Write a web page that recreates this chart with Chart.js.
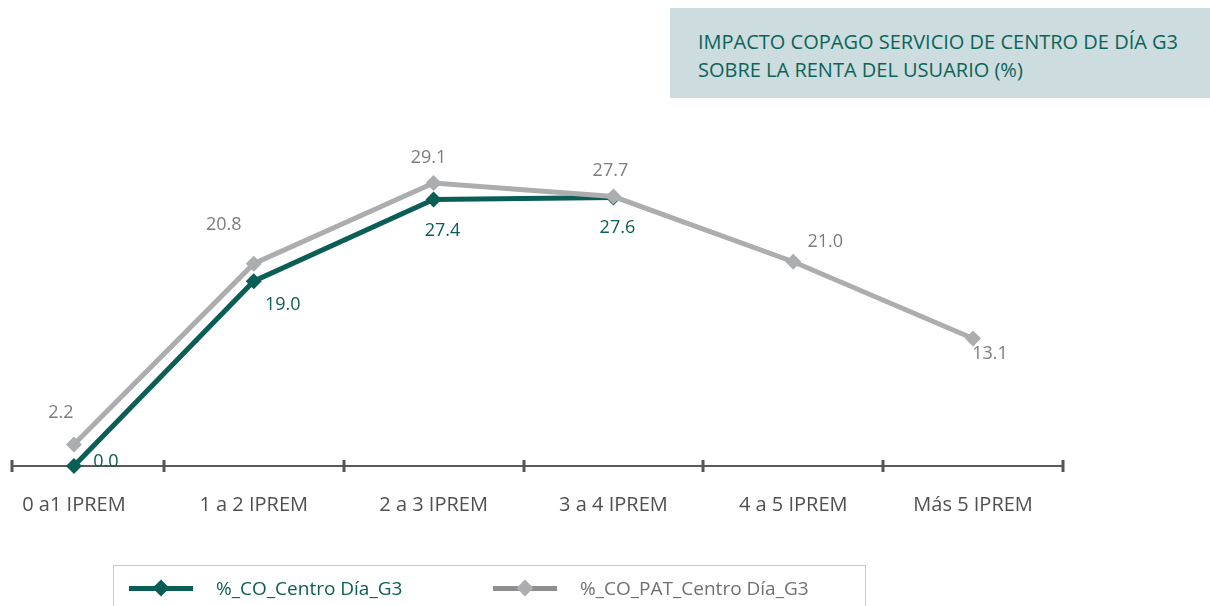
<!DOCTYPE html>
<html><head><meta charset="utf-8">
<script src="https://cdn.jsdelivr.net/npm/chart.js@4/dist/chart.umd.min.js"></script>
<style>
html,body{margin:0;padding:0;background:#fff;}
#wrap{position:relative;width:1210px;height:606px;overflow:hidden;font-family:"Open Sans",sans-serif;}
#c{position:absolute;left:-28px;top:0;}
#title{position:absolute;left:670px;top:8px;width:540px;height:90px;background:#cddcdf;color:#0b6459;font-size:20px;line-height:28px;box-sizing:border-box;padding:20px 0 0 28px;}
#legend{position:absolute;left:113px;top:565px;width:753px;height:60px;border:1px solid #c8c8c8;box-sizing:border-box;}
.li{position:absolute;top:10px;height:24px;display:flex;align-items:center;font-size:19px;}
.mk{position:relative;width:64px;height:24px;margin-right:23px;}
.mk .ln{position:absolute;left:0;right:0;top:10px;height:5px;}
.mk .dm{position:absolute;left:26px;top:6px;width:12px;height:12px;transform:rotate(45deg);}
</style></head>
<body><div id="wrap">
<canvas id="c" width="1238" height="606"></canvas>
<div id="title">IMPACTO COPAGO SERVICIO DE CENTRO DE DÍA G3<br>SOBRE LA RENTA DEL USUARIO (%)</div>
<div id="legend"></div>
</div>
<script>
const categories = ["0 a1 IPREM", "1 a 2 IPREM", "2 a 3 IPREM", "3 a 4 IPREM", "4 a 5 IPREM", "Más 5 IPREM"];
const coCentroDia = [0.0, 19.0, 27.4, 27.6, null, null];
const coPatCentroDia = [2.2, 20.8, 29.1, 27.7, 21.0, 13.1];
const seriesNames = ["%_CO_Centro Día_G3", "%_CO_PAT_Centro Día_G3"];

const GREEN = '#0b5e55', GREY = '#acadaf';
const GREEN_TXT = '#0b5e55', GREY_TXT = '#7d7d7f';
const AXIS_START = 40; // canvas x where the drawn axis line begins

const labelPlugin = {
  id: 'valLabels',
  afterDatasetsDraw(chart) {
    const ctx = chart.ctx;
    ctx.save();
    ctx.font = '18px "Open Sans", sans-serif';
    ctx.textAlign = 'center';
    ctx.textBaseline = 'middle';
    chart.data.datasets.forEach((ds, di) => {
      const meta = chart.getDatasetMeta(di);
      meta.data.forEach((pt, i) => {
        const v = ds.data[i];
        if (v === null || v === undefined) return;
        const off = ds.labelOffsets[i];
        ctx.fillStyle = ds.labelColor;
        ctx.fillText(v.toFixed(1), pt.x + off[0], pt.y + off[1]);
      });
    });
    ctx.restore();
  }
};

const axisLine = {
  id: 'axisLine',
  beforeDatasetsDraw(chart) {
    const xs = chart.scales.x;
    const ctx = chart.ctx;
    const n = categories.length;
    const y = xs.top;
    ctx.save();
    ctx.strokeStyle = '#5a5a5a';
    ctx.lineWidth = 2;
    ctx.beginPath();
    ctx.moveTo(AXIS_START, y);
    ctx.lineTo(xs.right, y);
    ctx.stroke();
    ctx.strokeStyle = '#555';
    ctx.lineWidth = 3;
    const xsTicks = [AXIS_START];
    for (let i = 1; i <= n; i++) xsTicks.push(Math.round(xs.left + i * (xs.right - xs.left) / n));
    xsTicks.forEach(x => {
      ctx.beginPath();
      ctx.moveTo(x, y - 6);
      ctx.lineTo(x, y + 6);
      ctx.stroke();
    });
    ctx.restore();
  }
};

const chart = new Chart(document.getElementById('c'), {
  type: 'line',
  data: {
    labels: categories,
    datasets: [
      {
        label: seriesNames[0], data: coCentroDia, borderColor: GREEN, backgroundColor: GREEN,
        borderWidth: 5, pointStyle: 'rectRot', pointRadius: 8, pointHoverRadius: 8,
        pointBackgroundColor: GREEN, pointBorderWidth: 0, order: 1, clip: false,
        labelColor: GREEN_TXT, labelOffsets: [[32, -4], [29, 24], [9, 31], [4, 30], [0, 0], [0, 0]]
      },
      {
        label: seriesNames[1], data: coPatCentroDia, borderColor: GREY, backgroundColor: GREY,
        borderWidth: 5, pointStyle: 'rectRot', pointRadius: 8, pointHoverRadius: 8,
        pointBackgroundColor: GREY, pointBorderWidth: 0, order: 0, clip: false,
        labelColor: GREY_TXT, labelOffsets: [[-13, -32], [-30, -39], [-5, -25], [-3, -26], [32, -20], [17, 15]]
      }
    ]
  },
  options: {
    responsive: false,
    animation: false,
    events: [],
    layout: { padding: { left: 12, right: 147, top: 145, bottom: 62 } },
    plugins: { legend: { display: false }, tooltip: { enabled: false } },
    scales: {
      x: {
        offset: true,
        grid: { display: true, drawOnChartArea: false, drawTicks: false, offset: true },
        border: { display: false },
        ticks: { color: '#505050', padding: 27, font: { family: '"Open Sans", sans-serif', size: 20 } }
      },
      y: { display: false, min: 0, max: 33 }
    }
  },
  plugins: [labelPlugin, axisLine]
});

// HTML legend from datasets
const lg = document.getElementById('legend');
const lefts = [15, 379];
chart.data.datasets.forEach((ds, i) => {
  const d = document.createElement('div');
  d.className = 'li';
  d.style.left = lefts[i] + 'px';
  d.style.color = i === 0 ? GREEN_TXT : '#707072';
  const mk = document.createElement('div');
  mk.className = 'mk';
  mk.innerHTML = '<div class="ln" style="background:' + (i === 0 ? GREEN : '#8e8e90') + '"></div><div class="dm" style="background:' + (i === 0 ? GREEN : GREY) + '"></div>';
  d.appendChild(mk);
  d.appendChild(document.createTextNode(ds.label));
  lg.appendChild(d);
});
</script>
</body></html>
